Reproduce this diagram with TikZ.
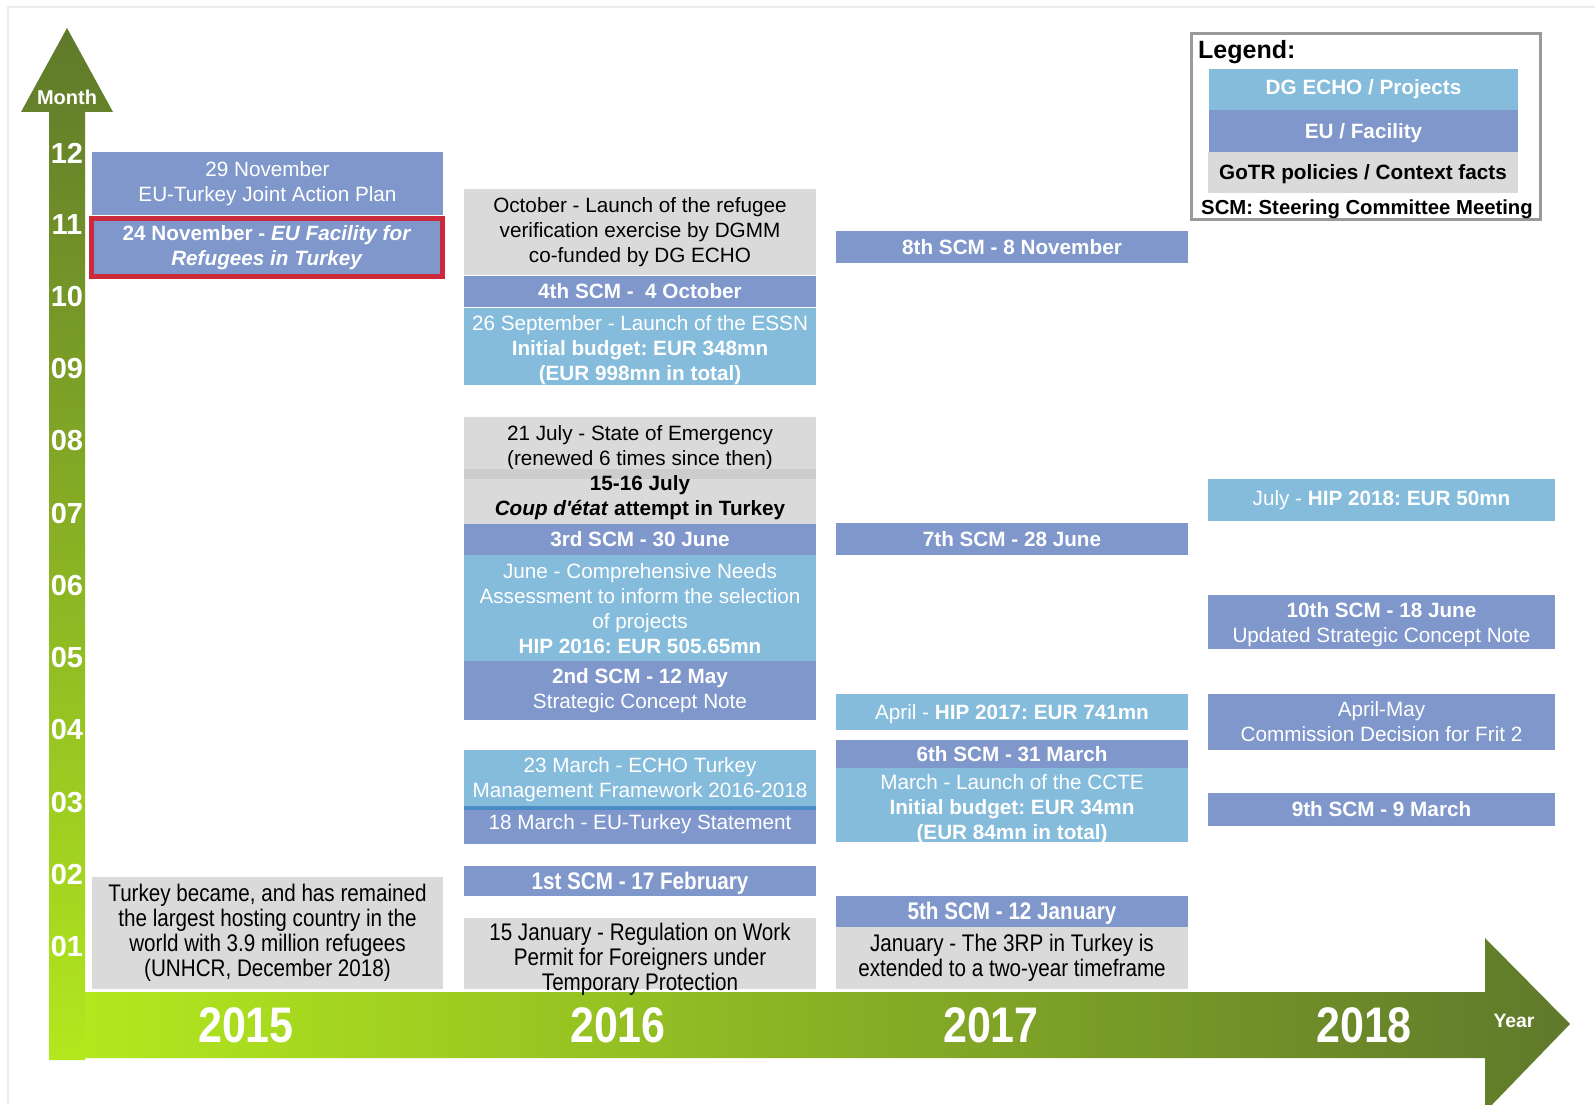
\documentclass[tikz,border=0pt]{standalone}
\usepackage{fontspec}
\setmainfont{Liberation Sans}
\newfontfamily\narrowfont[FakeStretch=0.86]{Liberation Sans}
\newcommand{\myfs}[2]{\fontsize{#1}{#2}\selectfont}
\newcommand{\mystrut}{\rule[-0.212em]{0pt}{1.117em}}
\newcommand{\sqapos}{\XeTeXglyph\XeTeXcharglyph"0027\relax}
\definecolor{echoC}{HTML}{85BCDC}
\definecolor{euC}{HTML}{7F97CB}
\definecolor{grayC}{HTML}{DADADA}
\definecolor{grayD}{HTML}{CDCDCD}
\definecolor{sepC}{HTML}{4A8CC6}
\definecolor{redC}{HTML}{CC2A3A}
\definecolor{oliveC}{HTML}{5F792B}
\definecolor{limeC}{HTML}{B3E81E}
\definecolor{legC}{HTML}{9A9A9A}
\definecolor{frameC}{HTML}{EDEDED}
\begin{document}
\frenchspacing
\begin{tikzpicture}[x=1pt,y=-1pt,
  box/.style={rectangle, inner sep=0pt, align=center, font=\myfs{20.7}{24.9},
    execute at begin node=\mystrut, execute at end node=\mystrut},
  eu/.style={box, fill=euC, text=white},
  echo/.style={box, fill=echoC, text=white},
  gotr/.style={box, fill=grayC, text=black},
  band/.style={rectangle, inner sep=0pt},
  narrow/.style={font=\narrowfont\myfs{24}{24.9}},
  txt/.style={rectangle, inner sep=0pt, align=center, font=\myfs{20.7}{24.9}},
  labw/.style={box, text=white},
  labk/.style={box, text=black},
  cA/.style={minimum width=351pt},
  cB/.style={minimum width=352pt},
  cC/.style={minimum width=352pt},
  cD/.style={minimum width=347pt},
  month/.style={inner sep=0pt, text=white, font=\bfseries\myfs{29}{30}},
  yearlab/.style={inner sep=0pt, text=white, font=\narrowfont\bfseries\myfs{50}{52}},
  axislab/.style={inner sep=0pt, text=white, font=\bfseries\myfs{20}{22}},
  legtext/.style={inner sep=0pt, text=black, font=\bfseries\myfs{20.3}{22}}
]
\useasboundingbox (0,0) rectangle (1595,1105);
\fill[white] (0,0) rectangle (1595,1105);
\draw[frameC, line width=1.5pt] (8,1110) -- (8,7) -- (1600,7);

% axes
\shade[top color=oliveC, bottom color=limeC]
  (49,1060) -- (49,112) -- (21,112) -- (67,28) -- (113,112) -- (85,112) -- (85,1060) -- cycle;
\shade[left color=limeC, right color=oliveC]
  (85,992) -- (1485,992) -- (1485,938) -- (1570,1024) -- (1485,1112) -- (1485,1058) -- (85,1058) -- cycle;

\node[axislab] (monthlab) at (67,97) {Month};
\node[axislab, font=\bfseries\myfs{19.4}{21}] (yearaxis) at (1514,1021) {Year};

\node[month] (m12) at (67,153) {12};
\node[month] (m11) at (67,225) {11};
\node[month] (m10) at (67,297) {10};
\node[month] (m09) at (67,369) {09};
\node[month] (m08) at (67,441) {08};
\node[month] (m07) at (67,514) {07};
\node[month] (m06) at (67,586) {06};
\node[month] (m05) at (67,658) {05};
\node[month] (m04) at (67,730) {04};
\node[month] (m03) at (67,803) {03};
\node[month] (m02) at (67,875) {02};
\node[month] (m01) at (67,947) {01};

\node[yearlab] (y2015) at (246,1025) {2015};
\node[yearlab] (y2016) at (618,1025) {2016};
\node[yearlab] (y2017) at (991,1025) {2017};
\node[yearlab] (y2018) at (1364,1025) {2018};

% 2015
\node[eu, cA, minimum height=63pt] (nov29) at (267.5,183.5) {29 November\\EU-Turkey Joint Action Plan};
\node[eu, cA, minimum height=58pt, draw=redC, line width=5pt] (nov24) at (267,247.5)
  {\textbf{24 November - \textit{EU Facility for}}\\\textbf{\textit{Refugees in Turkey}}};
\node[gotr, narrow, cA, minimum height=112pt] (turkey) at (267.5,933)
  {Turkey became, and has remained\\the largest hosting country in the\\world with 3.9 million refugees\\(UNHCR, December 2018)};

% 2016
\node[gotr, cB, minimum height=86pt] (oct) at (640,232)
  {October - Launch of the refugee\\verification exercise by DGMM\\co-funded by DG ECHO};
\node[eu, cB, minimum height=31pt] (scm4) at (640,291.5) {\textbf{4th SCM -\ \ 4 October}};
\node[echo, cB, minimum height=77pt,
  label={[labw, yshift=-4pt]center:{26 September - Launch of the ESSN\\\textbf{Initial budget: EUR 348mn}\\\textbf{(EUR 998mn in total)}}}] (sep26) at (640,346.5) {};
\node[gotr, cB, minimum height=52pt,
  label={[labk, yshift=-5pt]center:{21 July - State of Emergency\\(renewed 6 times since then)}}] (jul21) at (640,443) {};
\node[band, fill=grayC, cB, minimum height=55pt] (jul15) at (640,496.5) {};
\node[band, fill=grayD, cB, minimum height=10pt] (julstrip) at (640,474) {};
\node[txt, text=black] (jul15t) at (640,495.5)
  {\mystrut\textbf{15-16 July}\\\textbf{\textit{Coup d\sqapos état} attempt in Turkey}\mystrut};
\node[eu, cB, minimum height=31pt] (scm3) at (640,539.5) {\textbf{3rd SCM - 30 June}};
\node[echo, cB, minimum height=106pt,
  label={[labw, yshift=-3pt]center:{June - Comprehensive Needs\\Assessment to inform the selection\\of projects\\\textbf{HIP 2016: EUR 505.65mn}}}] (june) at (640,608) {};
\node[eu, cB, minimum height=59pt] (scm2) at (640,690.5)
  {\textbf{2nd SCM - 12 May}\\Strategic Concept Note};
\node[echo, cB, minimum height=56pt,
  label={[labw, yshift=-2pt]center:{23 March - ECHO Turkey\\Management Framework 2016-2018}}] (mar23) at (640,778) {};
\node[band, fill=sepC, cB, minimum height=4pt] (marsep) at (640,808) {};
\node[band, fill=euC, cB, minimum height=34pt] (mar18) at (640,827) {};
\node[txt, text=white] (mar18t) at (640,822) {\mystrut 18 March - EU-Turkey Statement\mystrut};
\node[eu, narrow, cB, minimum height=30pt] (scm1) at (640,881) {\textbf{1st SCM - 17 February}};
\node[band, fill=grayC, cB, minimum height=71pt] (jan15) at (640,953.5) {};
\node[txt, text=black, font=\narrowfont\myfs{24}{24.9}] (jan15t) at (640,959.5)
  {15 January - Regulation on Work\\Permit for Foreigners under\\Temporary Protection};

% 2017
\node[eu, cC, minimum height=32pt] (scm8) at (1012,247) {\textbf{8th SCM - 8 November}};
\node[eu, cC, minimum height=32pt] (scm7) at (1012,539) {\textbf{7th SCM - 28 June}};
\node[echo, cC, minimum height=36pt] (apr17) at (1012,712) {April - \textbf{HIP 2017: EUR 741mn}};
\node[eu, cC, minimum height=28pt] (scm6) at (1012,754) {\textbf{6th SCM - 31 March}};
\node[echo, cC, minimum height=74pt,
  label={[labw, yshift=-4.5pt]center:{March - Launch of the CCTE\\\textbf{Initial budget: EUR 34mn}\\\textbf{(EUR 84mn in total)}}}] (mar17) at (1012,805) {};
\node[eu, narrow, cC, minimum height=31pt] (scm5) at (1012,911.5) {\textbf{5th SCM - 12 January}};
\node[gotr, narrow, cC, minimum height=62pt] (jan17) at (1012,958)
  {January - The 3RP in Turkey is\\extended to a two-year timeframe};

% 2018
\node[echo, cD, minimum height=42pt,
  label={[labw, yshift=2pt]center:{July - \textbf{HIP 2018: EUR 50mn}}}] (jul18) at (1381.5,500) {};
\node[eu, cD, minimum height=54pt,
  label={[labw, yshift=-3pt]center:{\textbf{10th SCM - 18 June}\\Updated Strategic Concept Note}}] (scm10) at (1381.5,622) {};
\node[eu, cD, minimum height=56pt,
  label={[labw, yshift=-2pt]center:{April-May\\Commission Decision for Frit 2}}] (aprmay) at (1381.5,722) {};
\node[eu, cD, minimum height=33pt] (scm9) at (1381.5,809.5) {\textbf{9th SCM - 9 March}};

% legend
\node[draw=legC, line width=3pt, minimum width=349pt, minimum height=186pt, inner sep=0pt] (legend) at (1366,126.5) {};
\node[anchor=west, inner sep=0pt, font=\bfseries\myfs{25}{27}] (legtitle) at (1198,52) {Legend:};
\node[echo, minimum width=309pt, minimum height=41pt,
  label={[labw, font=\bfseries\myfs{20.7}{24.9}, yshift=2pt]center:{DG ECHO / Projects}}] (legecho) at (1363.5,89.5) {};
\node[eu, minimum width=309pt, minimum height=42pt, font=\bfseries\myfs{20.7}{24.9}] (legeu) at (1363.5,131) {EU / Facility};
\node[gotr, minimum width=310pt, minimum height=41pt, font=\bfseries\myfs{20.7}{24.9}] (leggotr) at (1363,172.5) {GoTR policies / Context facts};
\node[legtext] (legscm) at (1367,209) {SCM: Steering Committee Meeting};
\end{tikzpicture}
\end{document}
